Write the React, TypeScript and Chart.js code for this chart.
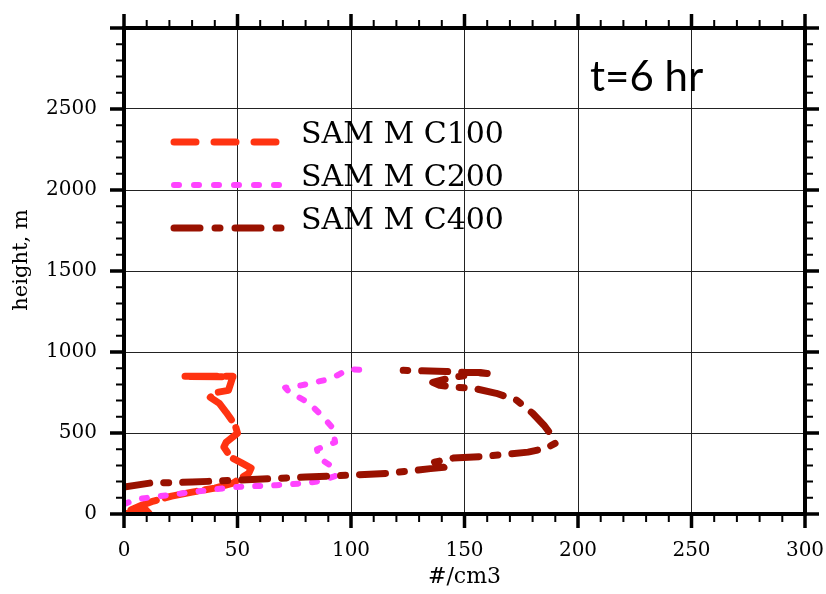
import React, { useEffect, useRef } from 'react';
import { Chart, registerables } from 'chart.js';

Chart.register(...registerables);

// ---- data ----
const seriesLabels = ['SAM M C100', 'SAM M C200', 'SAM M C400'];
const seriesColors = ['#ff3311', '#ff44ff', '#991100'];

const c100X = [0, 6, 11, 9, 3, 8, 13, 21, 30, 40, 48, 50, 55, 56, 52, 47, 44, 45, 50, 49, 45, 42, 38, 41, 46, 47, 48, 26, 48];
const c100Y = [0, 15, 5, 35, 25, 55, 80, 110, 135, 160, 190, 209, 252, 283, 314, 351, 413, 443, 499, 548, 628, 683, 720, 751, 763, 806, 850, 850, 846];

const c200X = [0, 5, 13, 30, 48, 67, 80, 86, 93, 92, 86, 85, 93, 92, 87, 81, 73, 71, 78, 88, 94, 99, 104];
const c200Y = [60, 90, 105, 135, 166, 178, 190, 203, 234, 290, 345, 400, 443, 530, 610, 690, 751, 780, 794, 825, 856, 895, 890];

const c400X = [0, 11.5, 30, 50, 80, 100, 117, 135, 141, 136, 145, 160, 178, 186, 190, 189, 185, 180, 173, 164, 154, 147, 139, 136, 145, 151, 149, 157, 160, 142, 123];
const c400Y = [166, 191, 197, 209, 228, 240, 252, 280, 288, 318, 345, 357, 382, 406, 437, 474, 548, 622, 702, 745, 776, 782, 794, 813, 844, 856, 874, 874, 868, 880, 887];

const xMin = 0;
const xMax = 300;
const xMajor = 50;
const xMinor = 10;
const yMin = 0;
const yMax = 3000;
const yMajor = 500;
const yMinor = 100;
const xTitle = '#/cm3';
const yTitle = 'height, m';
const annotation = 't=6 hr';

// ---- styles ----
const legendDashes = [[22, 18], [5, 15], [26, 15, 5, 15]];
const plotDashes = [[32, 9], [5, 14], [26, 14, 5, 14]];
const widths = [7, 6, 7];
const drawOrder = [3, 2, 1];

const toPts = (xs: number[], ys: number[]) => xs.map((x, i) => ({ x, y: ys[i] }));
const seriesData = [toPts(c100X, c100Y), toPts(c200X, c200Y), toPts(c400X, c400Y)];

const decor = {
  id: 'decor',
  afterDraw(chart: any) {
    const { ctx, chartArea: a, scales } = chart;
    const xs = scales.x;
    const ys = scales.y;
    ctx.save();
    ctx.strokeStyle = '#000';
    ctx.lineCap = 'butt';
    for (let v = xMin; v <= xMax; v += xMinor) {
      const px = xs.getPixelForValue(v);
      const major = v % xMajor === 0;
      const len = major ? 14 : 8;
      ctx.lineWidth = major ? 3.5 : 2;
      ctx.beginPath();
      ctx.moveTo(px, a.bottom);
      ctx.lineTo(px, a.bottom + len);
      ctx.moveTo(px, a.top);
      ctx.lineTo(px, a.top - len);
      ctx.stroke();
    }
    for (let v = yMin; v <= yMax; v += yMinor) {
      const py = ys.getPixelForValue(v);
      const major = v % yMajor === 0;
      const len = major ? 14 : 8;
      ctx.lineWidth = major ? 3.5 : 2;
      ctx.beginPath();
      ctx.moveTo(a.left, py);
      ctx.lineTo(a.left - len, py);
      ctx.moveTo(a.right, py);
      ctx.lineTo(a.right + len, py);
      ctx.stroke();
    }
    ctx.lineWidth = 4;
    ctx.strokeRect(a.left, a.top, a.right - a.left, a.bottom - a.top);

    // legend
    const lx0 = a.left + 50;
    const lx1 = a.left + 158;
    const tx = a.left + 177;
    for (let i = 0; i < seriesLabels.length; i++) {
      const ly = a.top + 114 + i * 43;
      ctx.strokeStyle = seriesColors[i];
      ctx.lineWidth = widths[i];
      ctx.lineCap = 'round';
      ctx.setLineDash(legendDashes[i]);
      ctx.beginPath();
      ctx.moveTo(lx0, ly);
      ctx.lineTo(lx1, ly);
      ctx.stroke();
      ctx.setLineDash([]);
      ctx.fillStyle = '#000';
      ctx.font = '30px "DejaVu Serif"';
      ctx.textBaseline = 'alphabetic';
      ctx.textAlign = 'left';
      ctx.fillText(seriesLabels[i], tx, ly + 1);
    }

    // y title
    ctx.save();
    ctx.translate(22, (a.top + a.bottom) / 2 - 11);
    ctx.rotate(-Math.PI / 2);
    ctx.fillStyle = '#000';
    ctx.font = '21px "DejaVu Serif"';
    ctx.textAlign = 'center';
    ctx.textBaseline = 'middle';
    ctx.fillText(yTitle, 0, 0);
    ctx.restore();

    // annotation
    ctx.fillStyle = '#000';
    ctx.font = '42px Lato';
    ctx.textAlign = 'left';
    ctx.textBaseline = 'alphabetic';
    ctx.fillText(annotation, a.left + 466, a.top + 63);
    ctx.restore();
  },
};

export default function App() {
  const ref = useRef<HTMLCanvasElement | null>(null);
  useEffect(() => {
    if (!ref.current) return;
    const chart = new Chart(ref.current, {
      type: 'scatter',
      data: {
        datasets: seriesData.map((d, i) => ({
          label: seriesLabels[i],
          data: d,
          order: drawOrder[i],
          showLine: true,
          borderColor: seriesColors[i],
          backgroundColor: seriesColors[i],
          borderWidth: widths[i],
          borderDash: plotDashes[i],
          borderCapStyle: 'round',
          borderJoinStyle: 'round',
          pointRadius: 0,
          tension: 0,
        })),
      },
      options: {
        responsive: false,
        animation: false,
        layout: { padding: { top: 28, right: 21, left: 0, bottom: 0 } },
        plugins: { legend: { display: false }, tooltip: { enabled: false } },
        scales: {
          x: {
            type: 'linear',
            min: xMin,
            max: xMax,
            afterFit: (s: any) => { s.height = 80; s.paddingLeft = 0; s.paddingRight = 0; },
            ticks: {
              stepSize: xMajor,
              padding: 25,
              color: '#000',
              font: { family: '"DejaVu Serif"', size: 20 },
              maxRotation: 0,
            },
            grid: { color: '#222', lineWidth: 1, drawTicks: false },
            border: { display: false },
            title: {
              display: true,
              text: xTitle,
              color: '#000',
              font: { family: '"DejaVu Serif"', size: 22 },
              padding: { top: 0, bottom: 4 },
            },
          },
          y: {
            type: 'linear',
            min: yMin,
            max: yMax,
            afterFit: (s: any) => { s.width = 124; s.paddingTop = 0; s.paddingBottom = 0; },
            ticks: {
              stepSize: yMajor,
              padding: 27,
              color: '#000',
              font: { family: '"DejaVu Serif"', size: 20 },
              callback: (v: any) => (v === yMax ? '' : String(v)),
            },
            grid: { color: '#222', lineWidth: 1, drawTicks: false },
            border: { display: false },
            title: { display: false },
          },
        },
      },
      plugins: [decor],
    });
    return () => chart.destroy();
  }, []);
  return (
    <div style={{ position: 'absolute', left: 0, top: 0, width: 826, height: 594, background: '#fff' }}>
      <canvas ref={ref} width={826} height={594} style={{ display: 'block' }} />
    </div>
  );
}
